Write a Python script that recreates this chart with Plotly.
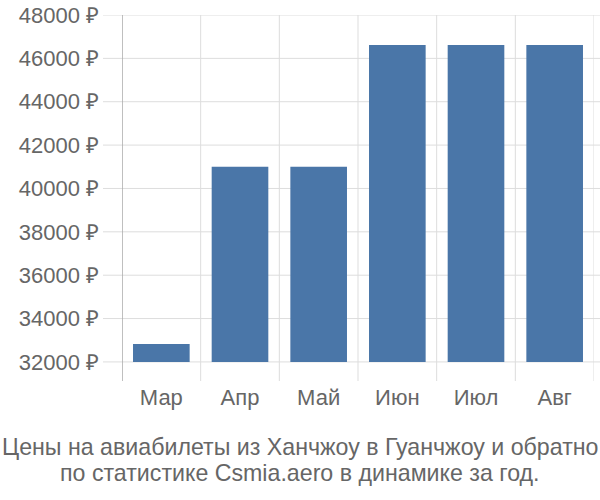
import plotly.graph_objects as go

months = ["Мар", "Апр", "Май", "Июн", "Июл", "Авг"]
prices = [32830, 41000, 41000, 46620, 46620, 46620]
tick_values = [32000, 34000, 36000, 38000, 40000, 42000, 44000, 46000, 48000]
tick_labels = [f"{v} ₽" for v in tick_values]
title_lines = ["Цены на авиабилеты из Ханчжоу в Гуанчжоу и обратно",
               "по статистике Csmia.aero в динамике за год."]

BASE = 32000
BAR_COLOR = "#4a76a8"
GRID = "#dddddd"
TEXT = "#666666"
FONT = "Liberation Sans"

fig = go.Figure()
fig.add_trace(go.Bar(
    x=months,
    y=[p - BASE for p in prices],
    base=BASE,
    marker=dict(color=BAR_COLOR, line=dict(width=0)),
    width=0.72,
))

shapes = []
for v in tick_values:
    shapes.append(dict(type="line", xref="paper", yref="y",
                       x0=-19/472, x1=1 + 6/472, y0=v, y1=v,
                       line=dict(color=GRID, width=1), layer="below"))
for i in range(len(months) + 1):
    shapes.append(dict(type="line", xref="x", yref="paper",
                       x0=i - 0.5, x1=i - 0.5, y0=0, y1=1,
                       line=dict(color="#aaaaaa" if i == 0 else GRID, width=1.5 if i == 0 else 1),
                       layer="below"))

annotations = []
for k, line in enumerate(title_lines):
    annotations.append(dict(text=line, xref="paper", yref="paper",
                            x=0.5, xanchor="center", y=0, yanchor="middle",
                            yshift=-(447 - 381) - 26 * k,
                            xshift=-(122 - 6) / 2,
                            showarrow=False, align="center",
                            font=dict(size=23.2, color=TEXT, family=FONT)))

fig.update_layout(
    width=600, height=500,
    margin=dict(l=122, r=6, t=15, b=119, autoexpand=False),
    paper_bgcolor="white", plot_bgcolor="white",
    showlegend=False,
    shapes=shapes,
    annotations=annotations,
    font=dict(family=FONT, color=TEXT),
    xaxis=dict(range=[-0.5, len(months) - 0.5], showgrid=False, showline=False,
               zeroline=False, ticks="", ticklabelstandoff=1, automargin=False,
               tickfont=dict(size=22, color=TEXT, family=FONT),
               fixedrange=True),
    yaxis=dict(range=[31120, 48000], tickvals=tick_values, ticktext=tick_labels,
               showgrid=False, zeroline=False, showline=False, ticks="",
               ticklabelstandoff=22, automargin=False,
               tickfont=dict(size=22, color=TEXT, family=FONT), fixedrange=True),
)

fig.write_html("out.html")
